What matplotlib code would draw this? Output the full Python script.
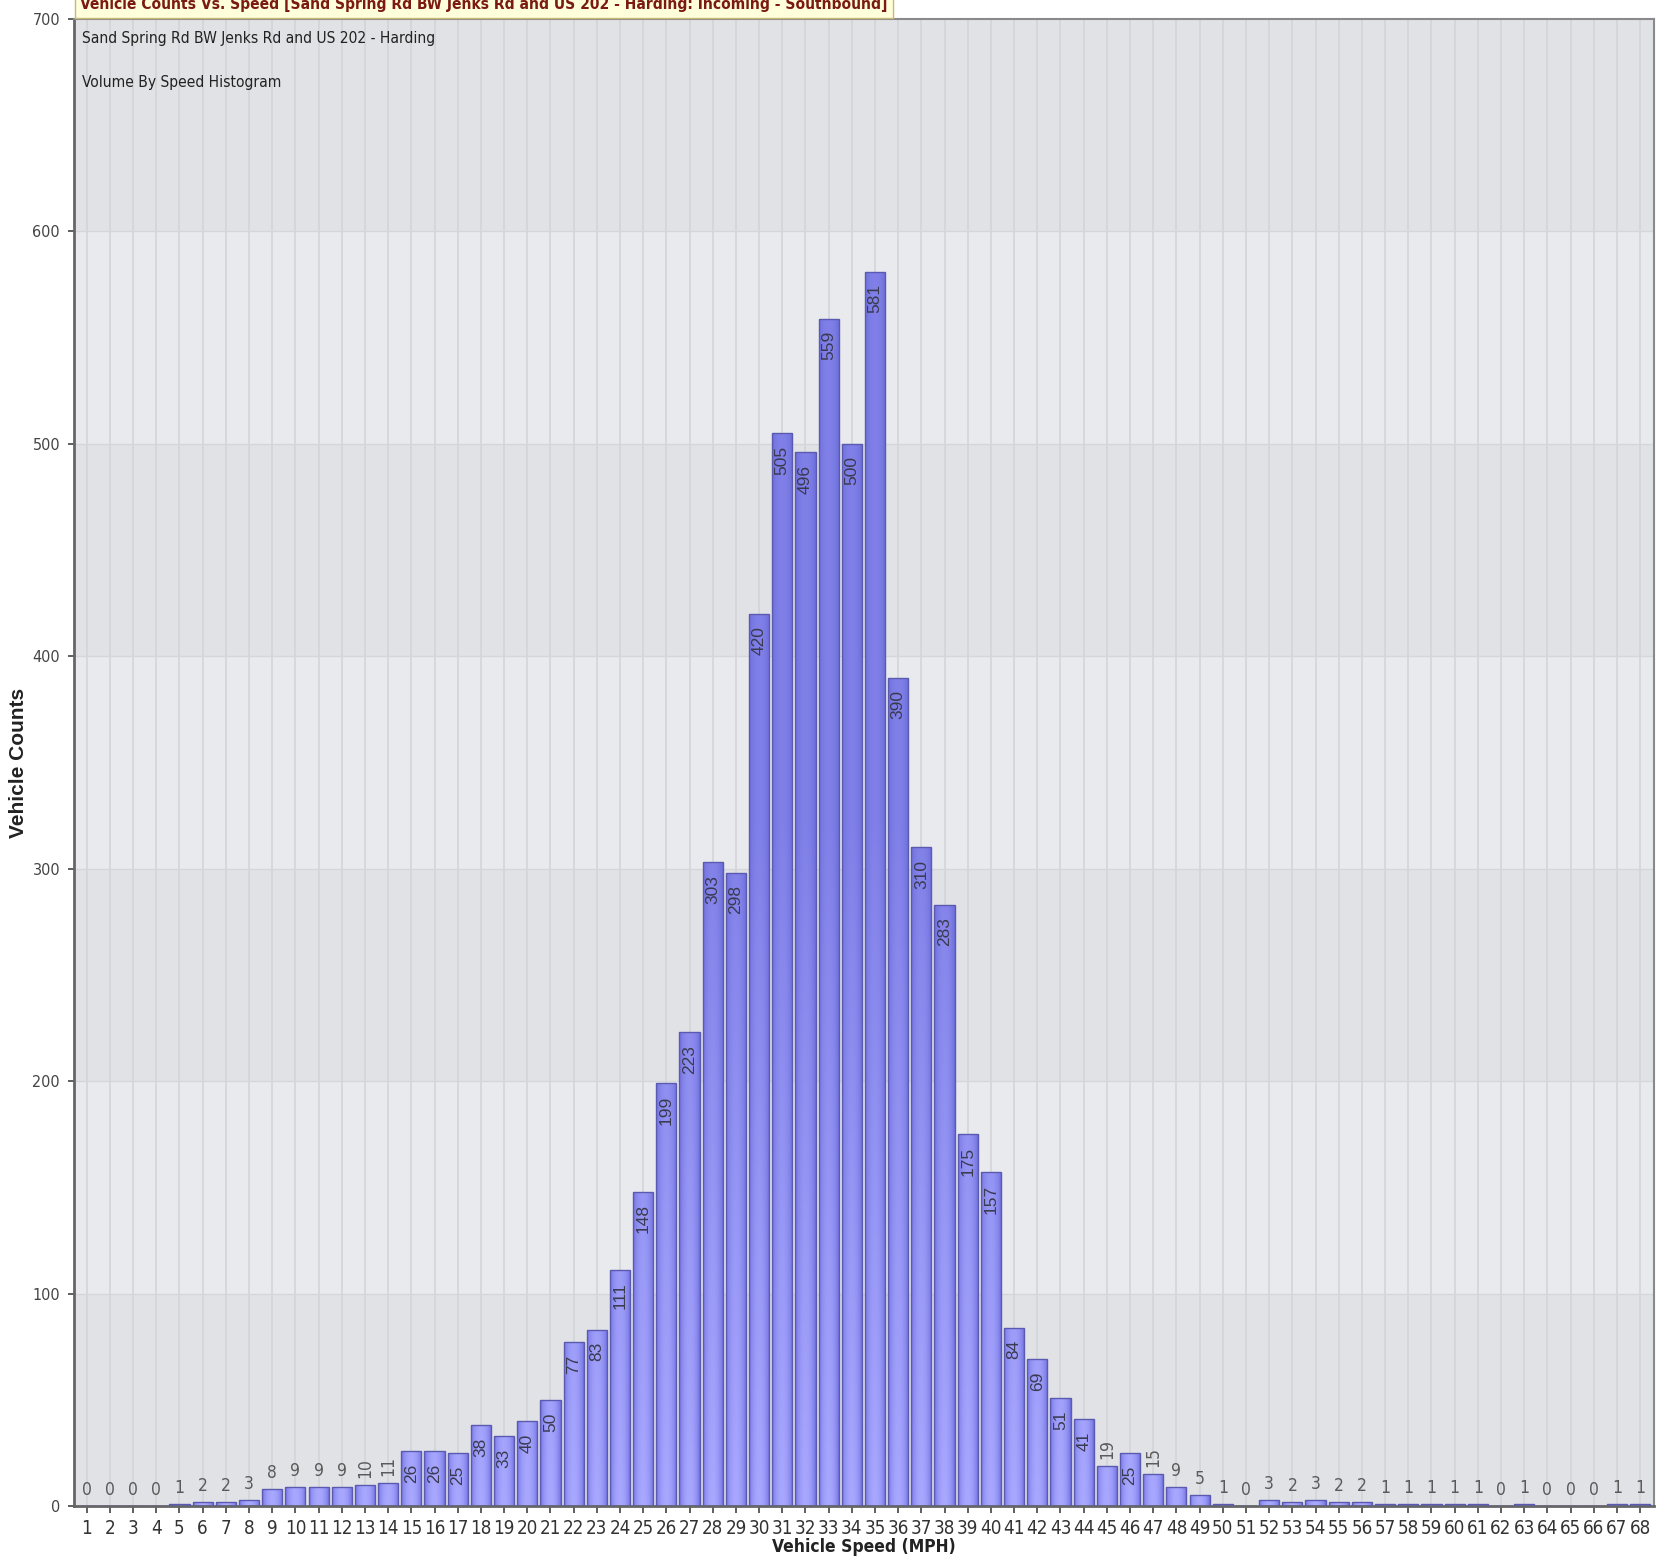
import numpy as np
import matplotlib
matplotlib.use("Agg")
import matplotlib.pyplot as plt
from matplotlib.path import Path
from matplotlib.patches import PathPatch

speeds = list(range(1, 69))
counts = [0, 0, 0, 0, 1, 2, 2, 3, 8, 9, 9, 9, 10, 11, 26, 26, 25, 38, 33, 40,
          50, 77, 83, 111, 148, 199, 223, 303, 298, 420, 505, 496, 559, 500, 581, 390,
          310, 283, 175, 157, 84, 69, 51, 41, 19, 25, 15, 9, 5, 1, 0, 3, 2, 3,
          2, 2, 1, 1, 1, 1, 1, 0, 1, 0, 0, 0, 1, 1]
yticks = [0, 100, 200, 300, 400, 500, 600, 700]

title_text = "Vehicle Counts Vs. Speed [Sand Spring Rd BW Jenks Rd and US 202 - Harding: Incoming - Southbound]"
sub1 = "Sand Spring Rd BW Jenks Rd and US 202 - Harding"
sub2 = "Volume By Speed Histogram"

NARROW = ["DejaVu Sans"]
STRETCH = "condensed"
SANS = ["Liberation Sans", "DejaVu Sans"]

W, H = 1657, 1561
fig = plt.figure(figsize=(W / 100, H / 100), dpi=100)
ax = fig.add_axes([74 / W, 1 - 1506 / H, (1654 - 74) / W, (1506 - 19) / H])

xmin, xmax = 0.45, 68.6
ymin, ymax = 0, 700
ax.set_xlim(xmin, xmax)
ax.set_ylim(ymin, ymax)

for lo in yticks[:-1]:
    c = "#e1e2e5" if (lo // 100) % 2 == 0 else "#e9eaed"
    ax.axhspan(lo, lo + 100, color=c, zorder=0, lw=0)

for s in speeds:
    ax.axvline(s, color="#d2d3d7", lw=1.1, zorder=0.5)
for t in yticks[1:-1]:
    ax.axhline(t, color="#d5d6da", lw=1.0, zorder=0.5)

bw = 0.87
bars = ax.bar(speeds, counts, width=bw, facecolor="none",
              edgecolor="#5a5ab0", linewidth=1.0, zorder=3)

nx = 68 * 40
xs = np.linspace(xmin, xmax, nx)
frac = (xs - np.round(xs)) / (bw / 2)
prof = np.clip(1 - frac ** 2, 0, 1) ** 0.8
ny = 300
ys = np.linspace(ymin, ymax, ny)
t = np.clip(ys / 320.0, 0, 1)[:, None]
center = np.array([168, 168, 255]) * (1 - t) + np.array([128, 128, 232]) * t
edge = np.array([112, 112, 226]) * (1 - t) + np.array([108, 108, 218]) * t
img = edge[:, None, :] + (center - edge)[:, None, :] * prof[None, :, None]
img = np.clip(img / 255.0, 0, 1)
im = ax.imshow(img, extent=[xmin, xmax, ymin, ymax], origin="lower",
               aspect="auto", zorder=2, interpolation="bilinear")
paths = [b.get_path().transformed(b.get_patch_transform()) for b in bars if b.get_height() > 0]
clip = PathPatch(Path.make_compound_path(*paths), transform=ax.transData,
                 facecolor="none", edgecolor="none")
ax.add_patch(clip)
im.set_clip_path(clip)

for s, v in zip(speeds, counts):
    lab = str(v)
    if v >= 25:
        ax.annotate(lab, (s, v), xytext=(0, -9), textcoords="offset points",
                    ha="center", va="top", rotation=90, fontsize=12.5,
                    color="#3a3a50", family=SANS, zorder=4)
    else:
        rot = 90 if len(lab) > 1 else 0
        ax.annotate(lab, (s, v), xytext=(0, 5), textcoords="offset points",
                    ha="center", va="bottom", rotation=rot, fontsize=12.5,
                    color="#5a5a5a", family=NARROW, fontstretch=STRETCH, zorder=4)

ax.set_xticks(speeds)
ax.set_xticklabels([str(s) for s in speeds], family=NARROW, fontstretch=STRETCH,
                   fontsize=13.5, color="#333333")
ax.set_yticks(yticks)
ax.set_yticklabels([str(y) for y in yticks], family=NARROW, fontstretch=STRETCH,
                   fontsize=11.5, color="#444444")
ax.tick_params(axis="x", length=5, width=1.2, color="#444444", pad=4)
ax.tick_params(axis="y", length=4, width=1.2, color="#444444", pad=6)

for side in ["left", "bottom"]:
    ax.spines[side].set_color("#666666")
    ax.spines[side].set_linewidth(2)
for side in ["top", "right"]:
    ax.spines[side].set_color("#8a8a8a")
    ax.spines[side].set_linewidth(1.5)

ax.set_xlabel("Vehicle Speed (MPH)", family=NARROW, fontstretch=STRETCH, fontsize=12.5,
              fontweight="bold", color="#222222", labelpad=0)
ax.set_ylabel("Vehicle Counts", family=SANS, fontsize=15, fontweight="bold",
              color="#222222", labelpad=0)
ax.yaxis.set_label_coords(-0.029, 0.5)

fig.text(82 / W, 1 - 38 / H, sub1, family=NARROW, fontstretch=STRETCH, fontsize=11.2,
         color="#222222", ha="left", va="center")
fig.text(82 / W, 1 - 83 / H, sub2, family=NARROW, fontstretch=STRETCH, fontsize=11.2,
         color="#222222", ha="left", va="center")

fig.text(80 / W, 1 - 5 / H, title_text, family=NARROW, fontstretch=STRETCH, fontsize=11.2,
         fontweight="bold", color="#7a1a10", ha="left", va="center",
         bbox=dict(boxstyle="square,pad=0.35", facecolor="#ffffdc", edgecolor="#c8b878", lw=1))

fig.savefig("out.png", dpi=100, facecolor="white")
